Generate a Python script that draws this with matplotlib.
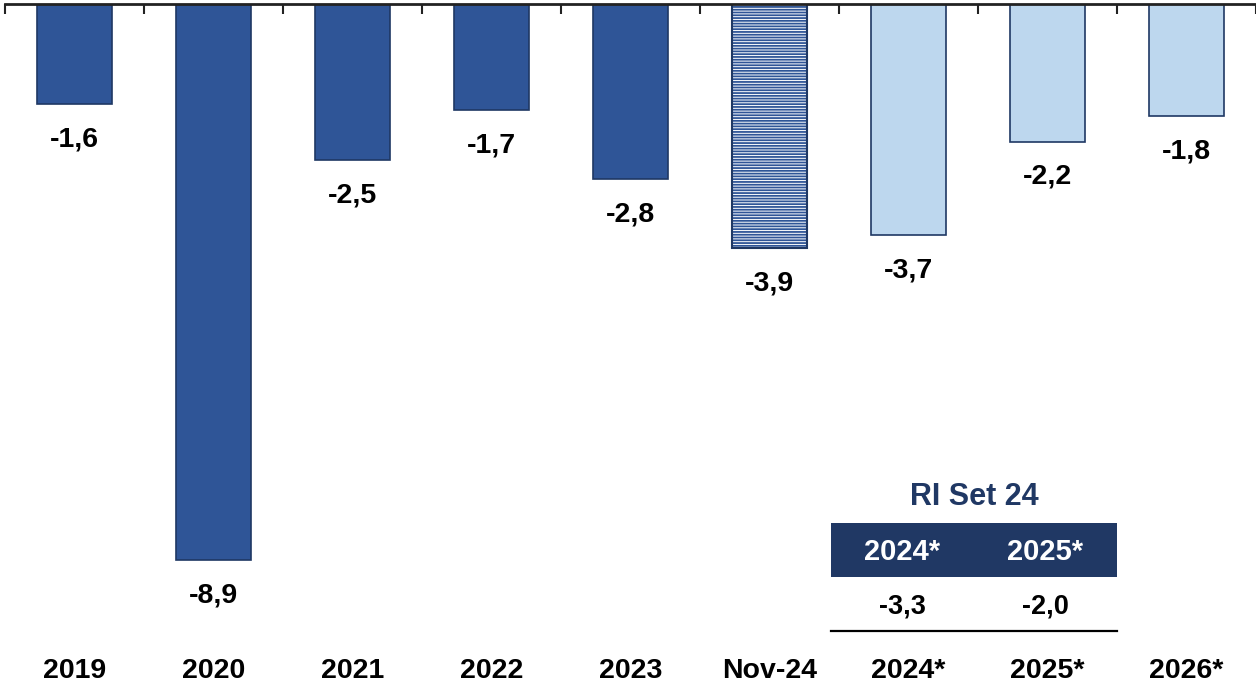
import numpy as np
import matplotlib
matplotlib.use("Agg")
import matplotlib.pyplot as plt
from matplotlib.patches import Rectangle
from matplotlib.lines import Line2D
import matplotlib.transforms as mtransforms

plt.rcParams['font.family'] = ['Liberation Sans', 'DejaVu Sans']
plt.rcParams['hatch.linewidth'] = 1.3

# data
categories = ['2019', '2020', '2021', '2022', '2023', 'Nov-24', '2024*', '2025*', '2026*']
values = [-1.6, -8.9, -2.5, -1.7, -2.8, -3.9, -3.7, -2.2, -1.8]
kinds = ['hist', 'hist', 'hist', 'hist', 'hist', 'ytd', 'fcst', 'fcst', 'fcst']

ri_title = 'RI Set 24'
ri_years = ['2024*', '2025*']
ri_values = [-3.3, -2.0]

dark_blue = '#2F5597'
edge_blue = '#1F3864'
light_blue = '#BDD7EE'
navy = '#203864'

W, H = 1256, 683
fig = plt.figure(figsize=(W / 100, H / 100), dpi=100)
ax = fig.add_axes([5 / W, 0, 1 - 5 / W, 1 - 4 / H])

x = np.arange(len(categories))
bw = 0.545
for xi, v, k in zip(x, values, kinds):
    if k == 'hist':
        ax.bar(xi, v, bw, color=dark_blue, edgecolor=edge_blue, linewidth=1.2, zorder=2)
    elif k == 'ytd':
        ax.bar(xi, v, bw, color='white', edgecolor=dark_blue, hatch='------', linewidth=0, zorder=2)
        ax.bar(xi, v, bw, color='none', edgecolor=edge_blue, linewidth=1.5, zorder=3)
    else:
        ax.bar(xi, v, bw, color=light_blue, edgecolor=edge_blue, linewidth=1.2, zorder=2)
    ax.annotate(f"{v:.1f}".replace('.', ','), (xi, v), xytext=(0, -30.5), textcoords='offset points',
                ha='center', va='baseline', fontsize=20.5, fontweight='bold', color='black')

ax.set_xlim(-0.5, len(categories) - 0.5)
ax.set_ylim(-(H - 4) / 62.5, 0)

# category labels at the bottom
tr = mtransforms.blended_transform_factory(ax.transData, ax.transAxes)
for xi, c in zip(x, categories):
    ax.text(xi, 5 / (H - 4), c, transform=tr, ha='center', va='baseline',
            fontsize=20.5, fontweight='bold', color='black')

for s in ['left', 'right', 'bottom']:
    ax.spines[s].set_visible(False)
ax.spines['top'].set_linewidth(2)
ax.spines['top'].set_color('#222222')
ax.spines['top'].set_zorder(5)
ax.xaxis.tick_top()
ax.set_xticks(np.arange(-0.5, len(categories), 1))
ax.set_xticklabels([])
ax.tick_params(axis='x', direction='in', length=7, width=1.5, color='#222222')
ax.set_yticks([])

# small RI table
def fx(px):
    return px / W

def fy(py):
    return 1 - py / H

fig.text(fx(974), fy(505), ri_title, ha='center', va='baseline', fontsize=22,
         fontweight='bold', color=navy)
fig.patches.append(Rectangle((fx(831), fy(577)), fx(1117) - fx(831), fy(523) - fy(577),
                             transform=fig.transFigure, facecolor=navy, edgecolor='none'))
col_x = [902, 1045]
for cx, yr, v in zip(col_x, ri_years, ri_values):
    fig.text(fx(cx), fy(560), yr, ha='center', va='baseline', fontsize=21,
             fontweight='bold', color='white')
    fig.text(fx(cx), fy(614), f"{v:.1f}".replace('.', ','), ha='center', va='baseline',
             fontsize=19.5, fontweight='bold', color='black')
fig.lines.append(Line2D([fx(831), fx(1117)], [fy(631), fy(631)], transform=fig.transFigure,
                        color='black', linewidth=1.6))

fig.savefig('out.png', dpi=100)
